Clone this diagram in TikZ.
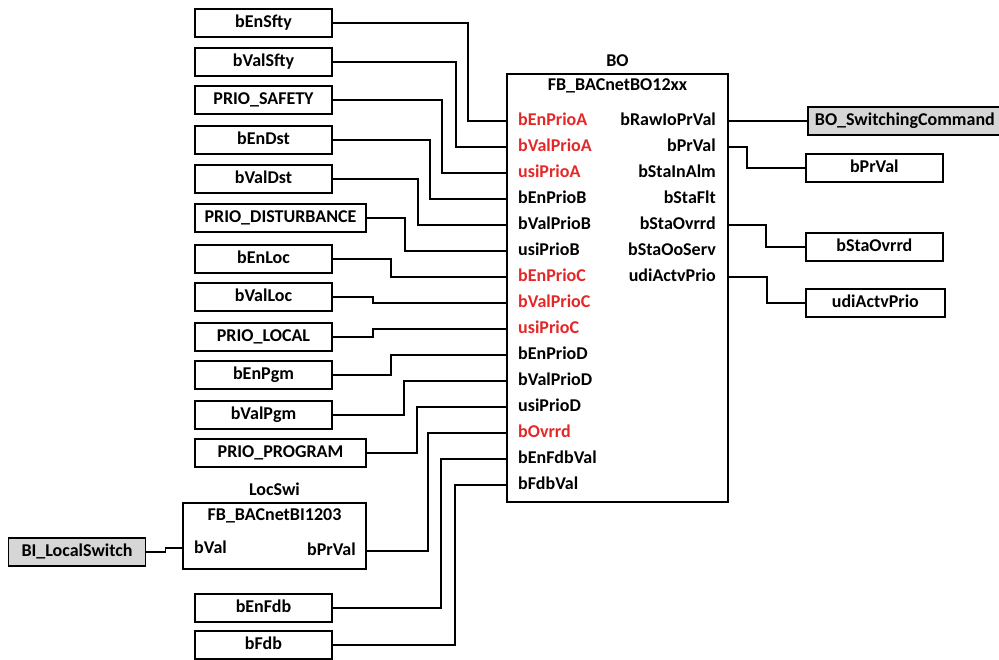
\documentclass[tikz,border=0pt]{standalone}
\usepackage{fontspec}
\setmainfont{Carlito}
\definecolor{pinred}{RGB}{228,40,40}
\definecolor{varfill}{RGB}{214,214,214}
\begin{document}
\begin{tikzpicture}[x=1pt,y=-1pt,
  every node/.style={font=\fontsize{18}{20}\selectfont\bfseries, inner sep=0pt, text height=12.5pt, text depth=3.5pt},
  var/.style={draw, line width=1.7pt, minimum height=28pt, minimum width=137pt},
  widevar/.style={var, minimum width=171pt},
  hwvar/.style={var, fill=varfill},
  wire/.style={line width=1.7pt},
  blockframe/.style={draw, line width=1.7pt},
  inpin/.style={anchor=west},
  outpin/.style={anchor=east},
  alarm/.style={text=pinred}]
\useasboundingbox (0,0) rectangle (999,659);

% ---- function block BO ----
\draw[blockframe] (507,74) rectangle (728,502);
\node (boname) at (617.5,62) {BO};
\node (botype) at (617.5,86) {FB\_BACnetBO12xx};

% input pins
\foreach \pname/\py/\pstyle [count=\i] in {
  bEnPrioA/121/alarm, bValPrioA/147/alarm, usiPrioA/173/alarm,
  bEnPrioB/199/, bValPrioB/225/, usiPrioB/251/,
  bEnPrioC/277/alarm, bValPrioC/303/alarm, usiPrioC/329/alarm,
  bEnPrioD/355/, bValPrioD/381/, usiPrioD/407/,
  bOvrrd/433/alarm, bEnFdbVal/459/, bFdbVal/485/}{
  \node[inpin,\pstyle] (lbl\pname) at (518,\py) {\pname};
  \coordinate (in\pname) at (507,\py);
}
% output pins
\foreach \pname/\py in {
  bRawIoPrVal/121, bPrVal/147, bStaInAlm/173, bStaFlt/199,
  bStaOvrrd/225, bStaOoServ/251, udiActvPrio/277}{
  \node[outpin] (lbl\pname) at (716,\py) {\pname};
  \coordinate (out\pname) at (728,\py);
}

% ---- function block LocSwi ----
\draw[blockframe] (183,503) rectangle (366,569);
\node (locname) at (274.5,491) {LocSwi};
\node (loctype) at (274.5,516) {FB\_BACnetBI1203};
\node[inpin] (lbllocbVal) at (194,549) {bVal};
\node[outpin] (lbllocbPrVal) at (356,551) {bPrVal};
\coordinate (locIn) at (183,548);
\coordinate (locOut) at (366,551);

% ---- input variables ----
\node[var] (bEnSfty)   at (263.5,23)  {bEnSfty};
\node[var] (bValSfty)  at (263.5,62)  {bValSfty};
\node[var] (PrioSafety) at (263.5,100) {PRIO\_SAFETY};
\node[var] (bEnDst)    at (263.5,140) {bEnDst};
\node[var] (bValDst)   at (263.5,179) {bValDst};
\node[widevar] (PrioDist) at (280.5,218) {PRIO\_DISTURBANCE};
\node[var] (bEnLoc)    at (263.5,259) {bEnLoc};
\node[var] (bValLoc)   at (263.5,297) {bValLoc};
\node[var] (PrioLocal) at (263.5,337) {PRIO\_LOCAL};
\node[var] (bEnPgm)    at (263.5,375) {bEnPgm};
\node[var] (bValPgm)   at (263.5,415) {bValPgm};
\node[widevar] (PrioPgm) at (280.5,453) {PRIO\_PROGRAM};
\node[var] (bEnFdb)    at (263.5,608) {bEnFdb};
\node[var] (bFdb)      at (263.5,645) {bFdb};
\node[hwvar] (BILocal) at (77,552) {BI\_LocalSwitch};

% ---- output variables ----
\node[hwvar, anchor=west, minimum width=200pt] (BOSwitch) at (807,121) {\hspace*{-6pt}BO\_SwitchingCommand};
\node[var, anchor=west] (bPrValOut)     at (805,168) {bPrVal};
\node[var, anchor=west] (bStaOvrrdOut)  at (805,247) {bStaOvrrd};
\node[var, anchor=west, minimum width=139pt] (udiActvPrioOut) at (805,303) {udiActvPrio};

% ---- wiring to BO inputs ----
\draw[wire] (bEnSfty.east)    -- ++(135,0) |- (inbEnPrioA);
\draw[wire] (bValSfty.east)   -- ++(123,0) |- (inbValPrioA);
\draw[wire] (PrioSafety.east) -- ++(109,0) |- (inusiPrioA);
\draw[wire] (bEnDst.east)     -- ++(97,0)  |- (inbEnPrioB);
\draw[wire] (bValDst.east)    -- ++(85,0)  |- (inbValPrioB);
\draw[wire] (PrioDist.east)   -- ++(38,0)  |- (inusiPrioB);
\draw[wire] (bEnLoc.east)     -- ++(58,0)  |- (inbEnPrioC);
\draw[wire] (bValLoc.east)    -- ++(40,0)  |- (inbValPrioC);
\draw[wire] (PrioLocal.east)  -- ++(40,0)  |- (inusiPrioC);
\draw[wire] (bEnPgm.east)     -- ++(58,0)  |- (inbEnPrioD);
\draw[wire] (bValPgm.east)    -- ++(71,0)  |- (inbValPrioD);
\draw[wire] (PrioPgm.east)    -- ++(50,0)  |- (inusiPrioD);
\draw[wire] (locOut)          -- ++(62,0)  |- (inbOvrrd);
\draw[wire] (bEnFdb.east)     -- ++(108,0) |- (inbEnFdbVal);
\draw[wire] (bFdb.east)       -- ++(122,0) |- (inbFdbVal);
\draw[wire] (BILocal.east)    -- ++(19,0)  |- (locIn);

% ---- wiring from BO outputs ----
\draw[wire] (outbRawIoPrVal) -- (BOSwitch.west);
\draw[wire] (outbPrVal)      -- ++(19,0) |- (bPrValOut.west);
\draw[wire] (outbStaOvrrd)   -- ++(38,0) |- (bStaOvrrdOut.west);
\draw[wire] (outudiActvPrio) -- ++(39,0) |- (udiActvPrioOut.west);
\end{tikzpicture}
\end{document}
